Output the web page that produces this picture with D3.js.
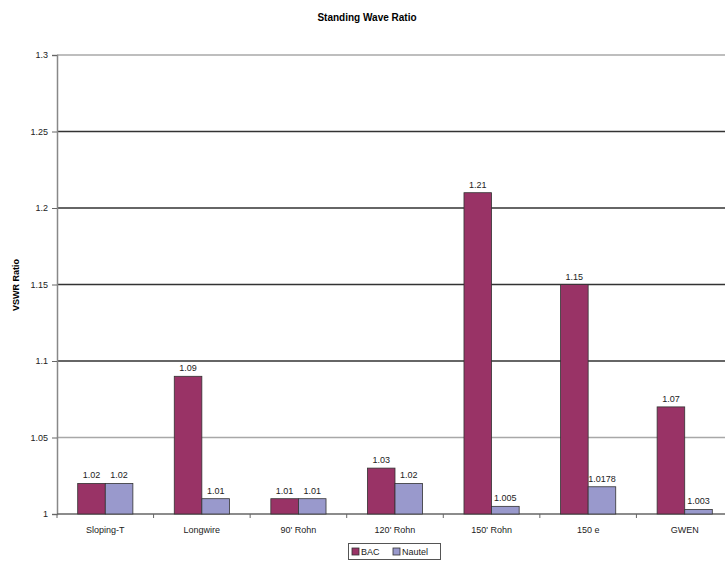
<!DOCTYPE html>
<html><head><meta charset="utf-8">
<script src="https://cdn.jsdelivr.net/npm/d3@7"></script>
<style>body{margin:0;background:#fff}svg{display:block;font-family:"Liberation Sans",Arial,sans-serif}</style>
</head><body>
<svg id="c" width="725" height="563"></svg>
<script>
const categories = ["Sloping-T","Longwire","90' Rohn","120' Rohn","150' Rohn","150 e","GWEN"];
const seriesNames = ["BAC","Nautel"];
const bac = [1.02,1.09,1.01,1.03,1.21,1.15,1.07];
const nautel = [1.02,1.01,1.01,1.02,1.005,1.0178,1.003];
const bacLabels = ["1.02","1.09","1.01","1.03","1.21","1.15","1.07"];
const nautelLabels = ["1.02","1.01","1.01","1.02","1.005","1.0178","1.003"];
const yTicks = [1,1.05,1.1,1.15,1.2,1.25,1.3];
const colors = ["#993366","#9999CC"];

const svg = d3.select("#c");
const pLeft = 57, pRight = 733, pTop = 55, pBottom = 514;
const x = d3.scaleBand().domain(categories).range([pLeft,pRight]);
const y = d3.scaleLinear().domain([1,1.3]).range([pBottom,pTop]);
const bw = x.bandwidth()/3.5;

// gridlines
const darkLines = new Set([1.1,1.15,1.2,1.25]);
svg.append("g").selectAll("line").data(yTicks.filter(d=>d>1)).join("line")
  .attr("x1",pLeft).attr("x2",pRight).attr("y1",d=>y(d)).attr("y2",d=>y(d))
  .attr("stroke",d=>darkLines.has(d)?"#333":"#a8a8a8").attr("stroke-width",1.3);

// y axis
const ya = svg.append("g").attr("transform",`translate(${pLeft},0)`)
  .call(d3.axisLeft(y).tickValues(yTicks).tickSize(5).tickFormat(d=>String(+d.toFixed(2))));
ya.select(".domain").attr("stroke","#888").attr("stroke-width",1.5);
ya.selectAll(".tick line").attr("stroke","#666");
ya.selectAll("text").attr("font-size",9).attr("fill","#222").attr("x",-9);

// x axis
const xa = svg.append("g").attr("transform",`translate(0,${pBottom})`);
xa.append("line").attr("x1",pLeft).attr("x2",pRight).attr("stroke","#666").attr("stroke-width",1.5);
xa.selectAll("line.t").data(d3.range(categories.length+1)).join("line").attr("class","t")
  .attr("x1",i=>pLeft+i*x.step()).attr("x2",i=>pLeft+i*x.step()).attr("y1",0).attr("y2",4).attr("stroke","#666");
xa.selectAll("text").data(categories).join("text")
  .attr("x",d=>x(d)+x.bandwidth()/2).attr("y",19).attr("text-anchor","middle")
  .attr("font-size",9).attr("fill","#222").text(d=>d);

// bars
const series = [bac,nautel];
const labels = [bacLabels,nautelLabels];
series.forEach((vals,si)=>{
  const g = svg.append("g");
  g.selectAll("rect").data(vals).join("rect")
    .attr("x",(d,i)=>x(categories[i])+x.bandwidth()/2-bw+si*bw)
    .attr("y",d=>y(d)).attr("width",bw).attr("height",d=>pBottom-y(d))
    .attr("fill",colors[si]).attr("stroke","#333").attr("stroke-width",0.8);
  g.selectAll("text").data(vals).join("text")
    .attr("x",(d,i)=>x(categories[i])+x.bandwidth()/2-bw+si*bw+bw/2)
    .attr("y",d=>y(d)-5).attr("text-anchor","middle").attr("font-size",9).attr("fill","#222")
    .text((d,i)=>labels[si][i]);
});

// title
svg.append("text").attr("x",367).attr("y",21).attr("text-anchor","middle")
  .attr("font-size",10).attr("font-weight","bold").text("Standing Wave Ratio");
svg.append("text").attr("transform","translate(19,285) rotate(-90)").attr("text-anchor","middle")
  .attr("font-size",9).attr("font-weight","bold").text("VSWR Ratio");

// legend
const lg = svg.append("g");
lg.append("rect").attr("x",348.5).attr("y",543.5).attr("width",92).attr("height",16)
  .attr("fill","#fff").attr("stroke","#555");
seriesNames.forEach((n,i)=>{
  const ox = 352 + i*41;
  lg.append("rect").attr("x",ox).attr("y",548).attr("width",7).attr("height",7)
    .attr("fill",colors[i]).attr("stroke","#333").attr("stroke-width",0.8);
  lg.append("text").attr("x",ox+9).attr("y",555).attr("font-size",9).attr("fill","#222").text(n);
});
</script>
</body></html>
